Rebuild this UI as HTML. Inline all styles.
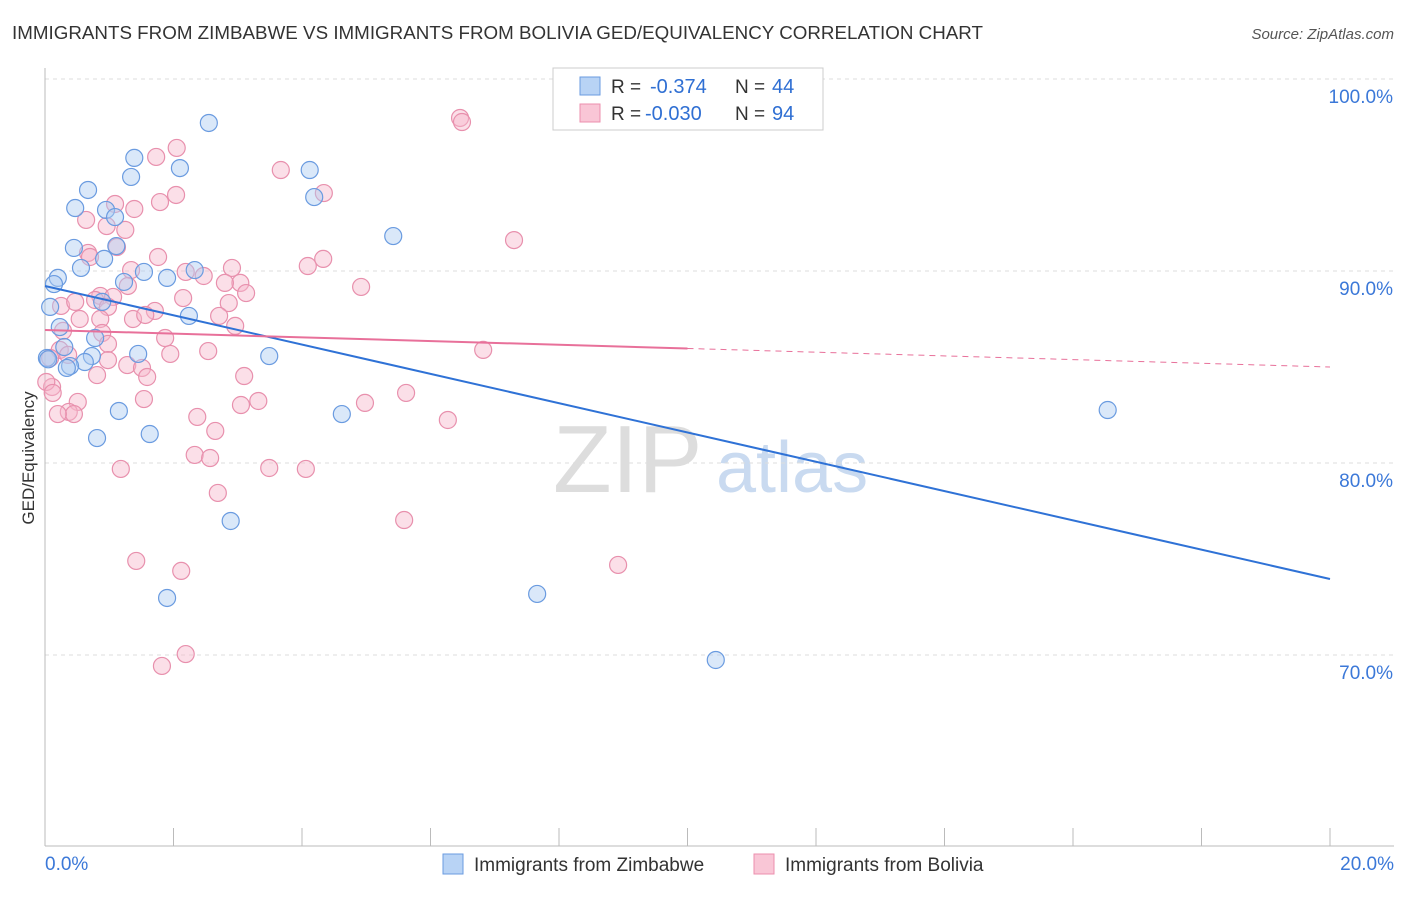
<!DOCTYPE html>
<html><head><meta charset="utf-8"><style>
body{margin:0;background:#fff;font-family:"Liberation Sans",sans-serif}
svg text{font-family:"Liberation Sans",sans-serif}
</style></head><body>
<svg id="chart" width="1406" height="892" viewBox="0 0 1406 892" xmlns="http://www.w3.org/2000/svg">
<text x="12" y="39" font-size="18" fill="#333" textLength="971" lengthAdjust="spacingAndGlyphs">IMMIGRANTS FROM ZIMBABWE VS IMMIGRANTS FROM BOLIVIA GED/EQUIVALENCY CORRELATION CHART</text>
<text x="1394" y="39" font-size="15" fill="#555" text-anchor="end" font-style="italic">Source: ZipAtlas.com</text>
<g>
<text x="553" y="492" font-size="96" fill="#ddd" font-family="Liberation Serif,serif">ZIP</text>
<text x="716" y="492" font-size="72" fill="#c9daf0">atlas</text>
</g>
<g id="grid"></g>
<g id="axes"></g>
<g id="pts"></g>
<g id="lines"></g>
<text transform="translate(34,458) rotate(-90)" font-size="17" fill="#333" text-anchor="middle">GED/Equivalency</text>
<g>
<rect x="553" y="68" width="270" height="62" fill="#fff" stroke="#ccc"/>
<rect x="580" y="77" width="20" height="18" fill="#b8d3f5" stroke="#6a9be0"/>
<rect x="580" y="104" width="20" height="18" fill="#f9c6d6" stroke="#ec8fae"/>
<text x="611" y="93" font-size="19" fill="#333">R =</text>
<text x="650" y="93" font-size="20" fill="#2f6fd3">-0.374</text>
<text x="735" y="93" font-size="19" fill="#333">N =</text>
<text x="772" y="93" font-size="20" fill="#2f6fd3">44</text>
<text x="611" y="120" font-size="19" fill="#333">R =</text>
<text x="645" y="120" font-size="20" fill="#2f6fd3">-0.030</text>
<text x="735" y="120" font-size="19" fill="#333">N =</text>
<text x="772" y="120" font-size="20" fill="#2f6fd3">94</text>
</g>
<g>
<rect x="443" y="854" width="20" height="20" fill="#b8d3f5" stroke="#6a9be0"/>
<text x="474" y="871" font-size="19" fill="#333">Immigrants from Zimbabwe</text>
<rect x="754" y="854" width="20" height="20" fill="#f9c6d6" stroke="#ec8fae"/>
<text x="785" y="871" font-size="19" fill="#333">Immigrants from Bolivia</text>
</g>
</svg>
<script>
const yTicks=[100,90,80,70];
const yTickLabels=["100.0%","90.0%","80.0%","70.0%"];
const xTicks=[0,2,4,6,8,10,12,14,16,18,20];
const xEndLabels=["0.0%","20.0%"];
const zimX=[2.55,1.39,2.10,4.12,1.34,0.67,4.19,0.47,0.95,1.09,5.42,0.45,1.11,0.92,0.56,0.20,0.14,1.54,1.90,2.33,1.23,0.89,2.24,0.08,0.23,0.78,0.30,0.03,1.45,0.73,3.49,0.62,0.39,0.34,1.15,4.62,0.81,1.63,2.89,1.90,7.66,10.44,16.54,0.05];
const zimY=[97.71,95.89,95.36,95.26,94.90,94.22,93.85,93.28,93.18,92.81,91.82,91.20,91.30,90.63,90.16,89.64,89.32,89.95,89.64,90.05,89.43,88.39,87.66,88.13,87.08,86.51,86.04,85.47,85.68,85.57,85.57,85.26,85.05,84.95,82.71,82.55,81.30,81.51,76.98,72.97,73.18,69.74,82.76,85.4];
const bolX=[6.46,6.49,2.05,1.73,3.67,2.04,4.34,1.79,1.09,1.39,0.64,0.96,1.25,7.30,1.12,0.67,0.70,1.76,4.33,4.09,1.34,2.91,2.19,2.47,3.04,2.80,3.13,4.92,1.29,0.86,1.06,2.15,0.25,0.78,0.47,0.98,2.86,1.71,0.54,0.86,1.37,1.56,2.71,2.96,0.28,0.89,1.87,0.98,0.23,0.36,2.54,6.82,1.95,0.08,1.28,1.51,0.81,1.59,3.10,0.11,0.02,0.12,5.62,0.51,1.54,3.32,3.05,4.98,0.37,0.45,0.20,2.37,6.27,2.65,2.33,2.57,1.18,3.49,4.06,2.69,5.59,1.42,2.12,8.92,2.19,1.82,0.98];
const bolY=[97.97,97.76,96.41,95.94,95.26,93.96,94.06,93.59,93.49,93.23,92.66,92.34,92.14,91.61,91.25,90.94,90.73,90.73,90.63,90.26,90.05,90.16,89.95,89.74,89.38,89.38,88.85,89.17,89.22,88.70,88.65,88.59,88.18,88.49,88.39,88.13,88.33,87.92,87.50,87.50,87.50,87.71,87.66,87.14,86.88,86.77,86.51,86.20,85.89,85.63,85.83,85.89,85.68,85.47,85.10,84.95,84.58,84.48,84.53,83.96,84.22,83.65,83.65,83.18,83.33,83.23,83.02,83.13,82.66,82.55,82.55,82.40,82.24,81.67,80.42,80.26,79.69,79.74,79.69,78.44,77.03,74.90,74.38,74.69,70.05,69.43,85.36];
const zimTrend=[89.22,73.96];
const bolTrend=[86.93,85.0];
const bolSolidEnd=10;
const NS="http://www.w3.org/2000/svg";
const X=v=>45+v*64.25, Y=v=>79+(100-v)*19.2;
function mk(p,t,a){const e=document.createElementNS(NS,t);for(const k in a)e.setAttribute(k,a[k]);p.appendChild(e);return e;}
const grid=document.getElementById('grid'),axes=document.getElementById('axes'),pts=document.getElementById('pts'),lines=document.getElementById('lines');
yTicks.forEach((t,i)=>{
 const g=mk(grid,'line',{x1:45,x2:1394,y1:Y(t),y2:Y(t),stroke:'#ddd','stroke-dasharray':'4,4'});
 
 
 const l=mk(axes,'text',{x:1393,y:Y(t)+24,'font-size':19,fill:'#3b78d8','text-anchor':'end'});
 l.textContent=yTickLabels[i];
 
 
});
const ax=mk(axes,'line',{x1:45,x2:45,y1:68,y2:846,stroke:'#bbb'});


const bx=mk(axes,'line',{x1:45,x2:1394,y1:846,y2:846,stroke:'#bbb'});


xTicks.forEach(t=>{
 const k=mk(axes,'line',{x1:X(t),x2:X(t),y1:828,y2:846,stroke:'#bbb'});
 
 
});
[[0,'start'],[20,'end']].forEach((p,i)=>{
 const l=mk(axes,'text',{x:i?1394:45,y:870,'font-size':19,fill:'#3b78d8','text-anchor':p[1]});
 l.textContent=xEndLabels[i];
 
 
});
function dots(xs,ys,fill,stroke,name){xs.forEach((x,i)=>{
 const c=mk(pts,'circle',{cx:X(x),cy:Y(ys[i]),r:8.5,fill:fill,'fill-opacity':0.45,stroke:stroke,'stroke-width':1.2});
 
 
});}
dots(bolX,bolY,'#f6b8cc','#e890ad','point-bolivia');
dots(zimX,zimY,'#aecbf2','#6a9be0','point-zimbabwe');
const zl=mk(lines,'line',{x1:X(0),y1:Y(zimTrend[0]),x2:X(20),y2:Y(zimTrend[1]),stroke:'#2f72d6','stroke-width':2});


const yb=bolTrend[0]+(bolTrend[1]-bolTrend[0])*bolSolidEnd/20;
const bl=mk(lines,'line',{x1:X(0),y1:Y(bolTrend[0]),x2:X(bolSolidEnd),y2:Y(yb),stroke:'#e8709a','stroke-width':2});


const bd=mk(lines,'line',{x1:X(bolSolidEnd),y1:Y(yb),x2:X(20),y2:Y(bolTrend[1]),stroke:'#e8709a','stroke-width':1,'stroke-dasharray':'6,5'});


</script>
</body></html>
